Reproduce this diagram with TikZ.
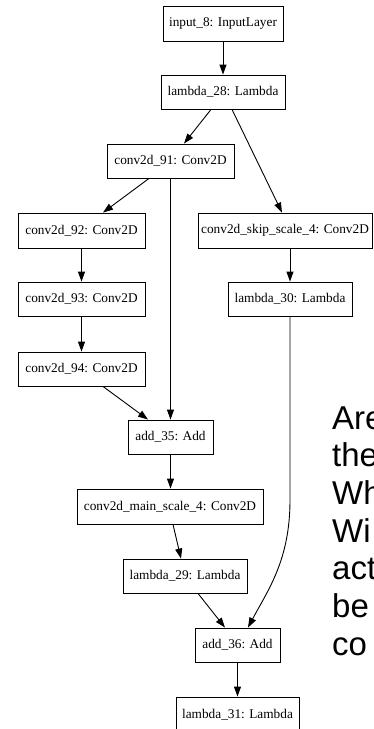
\documentclass[tikz,border=0pt]{standalone}
\usepackage{fontspec}
\setmainfont{Liberation Serif}
\newfontfamily\boxfont{Liberation Serif}
\newfontfamily\bigsans{Liberation Sans}
\usetikzlibrary{arrows.meta}
\begin{document}
\begin{tikzpicture}[x=1pt,y=-1pt,
  layer/.style={draw=black, line width=0.9pt, minimum height=35pt, inner sep=0pt,
    font=\boxfont\fontsize{13.3}{16}\selectfont, text=black},
  arr/.style={draw=black, line width=0.9pt, -{Triangle[length=10pt,width=7pt]}},
  bigtxt/.style={anchor=base west, inner sep=0pt, text=black,
    font=\bigsans\fontsize{33}{38}\selectfont}]
\useasboundingbox (0,0) rectangle (373,729);
\fill[white] (0,0) rectangle (373,729);
% layers
\node[layer, minimum width=120pt] (in8) at (223,23.5) {input\_8: InputLayer};
\node[layer, minimum width=124pt, minimum height=34pt] (lam28) at (223,92) {lambda\_28: Lambda};
\node[layer, minimum width=127pt, minimum height=34pt] (conv91) at (170.5,161) {conv2d\_91: Conv2D};
\node[layer, minimum width=127pt] (conv92) at (81.5,230.5) {conv2d\_92: Conv2D};
\node[layer, minimum width=174pt] (skip) at (285,230.5) {conv2d\_skip\_scale\_4: Conv2D};
\node[layer, minimum width=127pt, minimum height=34pt] (conv93) at (81.5,299) {conv2d\_93: Conv2D};
\node[layer, minimum width=124pt, minimum height=34pt] (lam30) at (290,299) {lambda\_30: Lambda};
\node[layer, minimum width=127pt, minimum height=34pt] (conv94) at (81.5,369) {conv2d\_94: Conv2D};
\node[layer, minimum width=85pt, minimum height=34pt] (add35) at (170.5,437) {add\_35: Add};
\node[layer, minimum width=186pt] (main) at (170,506.5) {conv2d\_main\_scale\_4: Conv2D};
\node[layer, minimum width=124pt, minimum height=34pt] (lam29) at (185,576) {lambda\_29: Lambda};
\node[layer, minimum width=85pt, minimum height=34pt] (add36) at (237.5,645) {add\_36: Add};
\node[layer, minimum width=123pt] (lam31) at (237.5,714.5) {lambda\_31: Lambda};
% connectors
\draw[arr] (in8.south) -- (lam28.north);
\draw[arr] ([xshift=-12pt]lam28.south) -- ([xshift=13.5pt]conv91.north);
\draw[arr] ([xshift=9pt]lam28.south) -- ([xshift=-3pt]skip.north);
\draw[arr] ([xshift=-21.5pt]conv91.south) -- ([xshift=21.5pt]conv92.north);
\draw[arr] (conv91.south) -- (add35.north);
\draw[arr] (conv92.south) -- (conv93.north);
\draw[arr] (skip.south -| lam30.north) -- (lam30.north);
\draw[arr] (conv93.south) -- (conv94.north);
\draw[arr] ([xshift=21.5pt]conv94.south) -- ([xshift=-22.5pt]add35.north);
\draw[arr] (add35.south) -- (add35.south |- main.north);
\draw[arr] ([xshift=3pt]main.south) -- ([xshift=-4pt]lam29.north);
\coordinate (bend) at (290,500);
\draw[arr] (lam30.south) -- (bend) .. controls (290,560) and (268,590) .. ([xshift=10.5pt]add36.north);
\draw[arr] ([xshift=13pt]lam29.south) -- ([xshift=-12.5pt]add36.north);
\draw[arr] (add36.south) -- (lam31.north);
% cropped text on the right
\node[bigtxt] (t1) at (332,429) {Are};
\node[bigtxt] (t2) at (332,466.7) {the};
\node[bigtxt] (t3) at (332,504.3) {Wh};
\node[bigtxt] (t4) at (332,542) {Wi};
\node[bigtxt] (t5) at (332,579.7) {act};
\node[bigtxt] (t6) at (332,617.3) {be};
\node[bigtxt] (t7) at (332,655) {co};
\end{tikzpicture}
\end{document}
